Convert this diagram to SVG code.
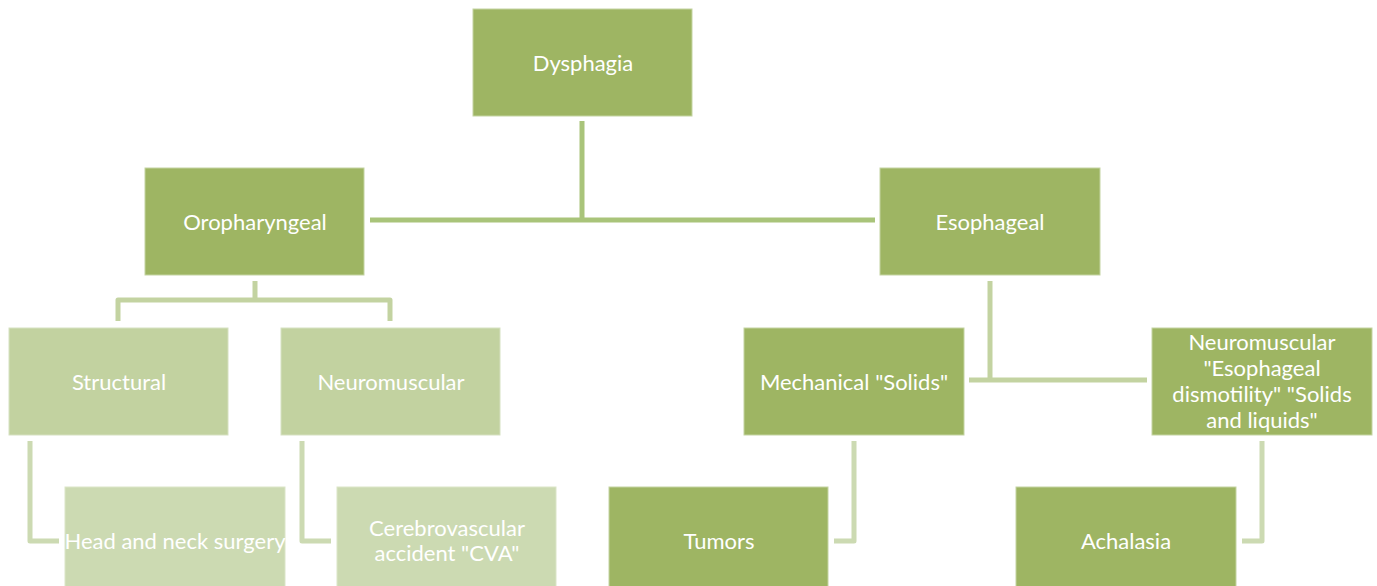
<svg xmlns="http://www.w3.org/2000/svg" width="1377" height="586" viewBox="0 0 1377 586">
<style>
.dark{fill:#9eb563;stroke:#c4d4a2;stroke-width:1}
.mid{fill:#c2d2a0;stroke:#d6e1c1;stroke-width:1}
.light{fill:#ccdab2;stroke:#dbe5c8;stroke-width:1}
text{font-family:Lato,"Open Sans","Liberation Sans",sans-serif;font-size:22px;fill:#ffffff;text-anchor:middle}
.c1{fill:none;stroke:#a9c47a;stroke-width:5}
.c2{fill:none;stroke:#c3d3a1;stroke-width:5;stroke-linejoin:round}
.c3{fill:none;stroke:#ccdab2;stroke-width:5;stroke-linejoin:round}
</style>
<rect width="1377" height="586" fill="#ffffff"/>
<g id="connectors">
<path class="c1" d="M582 121 V220 M370 220 H875"/>
<path class="c2" d="M255 281 V300 M118 321 V300 H390 V321"/>
<path class="c2" d="M990 281 V380 M969 380 H1147"/>
<path class="c3" d="M30 441 V541 H59"/>
<path class="c3" d="M302 441 V541 H331"/>
<path class="c3" d="M854 441 V541 H834"/>
<path class="c3" d="M1262 441 V541 H1242"/>
</g>
<g id="dysphagia"><rect class="dark" x="473" y="9" width="219" height="107"/><text x="583" y="71">Dysphagia</text></g>
<g id="oropharyngeal"><rect class="dark" x="145" y="168" width="219" height="107"/><text x="255" y="230">Oropharyngeal</text></g>
<g id="esophageal"><rect class="dark" x="880" y="168" width="220" height="107"/><text x="990" y="230">Esophageal</text></g>
<g id="structural"><rect class="mid" x="9" y="328" width="219" height="107"/><text x="119" y="390">Structural</text></g>
<g id="neuromuscular-oro"><rect class="mid" x="281" y="328" width="219" height="107"/><text x="391" y="390">Neuromuscular</text></g>
<g id="mechanical"><rect class="dark" x="744" y="328" width="220" height="107"/><text x="854" y="390">Mechanical "Solids"</text></g>
<g id="neuromuscular-eso"><rect class="dark" x="1152" y="328" width="220" height="107"/>
<text x="1262" y="350">Neuromuscular</text><text x="1262" y="376">"Esophageal</text><text x="1262" y="402">dismotility" "Solids</text><text x="1262" y="428">and liquids"</text></g>
<g id="head-neck"><rect class="light" x="65" y="487" width="220" height="110"/><text x="175" y="549">Head and neck surgery</text></g>
<g id="cva"><rect class="light" x="337" y="487" width="219" height="110"/><text x="447" y="536">Cerebrovascular</text><text x="447" y="561">accident "CVA"</text></g>
<g id="tumors"><rect class="dark" x="609" y="487" width="219" height="110"/><text x="719" y="549">Tumors</text></g>
<g id="achalasia"><rect class="dark" x="1016" y="487" width="220" height="110"/><text x="1126" y="549">Achalasia</text></g>
</svg>
